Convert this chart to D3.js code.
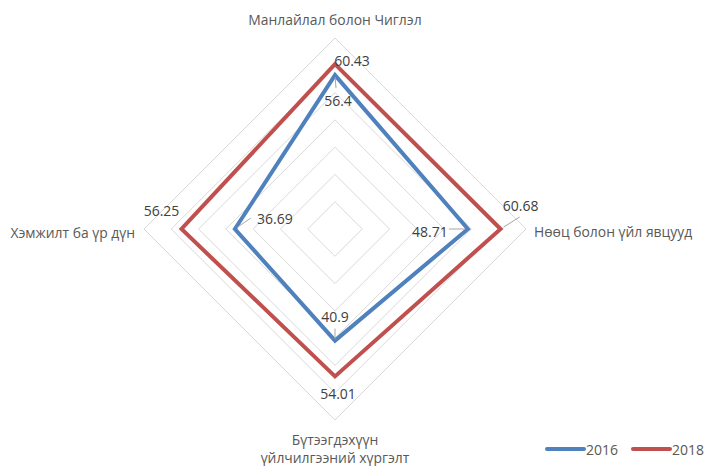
<!DOCTYPE html>
<html>
<head>
<meta charset="utf-8">
<script src="https://cdn.jsdelivr.net/npm/d3@7"></script>
<style>
  body { margin: 0; background: #fff; }
  text { font-family: "Open Sans", sans-serif; }
</style>
</head>
<body>
<div id="chart"></div>
<script>
// Data
var categories = ["Манлайлал болон Чиглэл", "Нөөц болон үйл явцууд", "Бүтээгдэхүүн үйлчилгээний хүргэлт", "Хэмжилт ба үр дүн"];
var series = ["2016", "2018"];
var values2016 = [56.4, 48.71, 40.9, 36.69];
var values2018 = [60.43, 60.68, 54.01, 56.25];
var ringValues = [10, 20, 30, 40, 50, 60, 70];

var colors = ["#4F81BD", "#C0504D"];
var dataset = [values2016, values2018];

// label offsets from the vertex; leader = start point of leader line (relative to label)
var labelLayout = [
  [{dx: 3, dy: 25, lead: [-2, -12]}, {dx: -38, dy: 2, lead: [19, -2]}, {dx: 0, dy: -24, lead: [0, 12]}, {dx: 40, dy: -11, lead: [-24, 0]}],
  [{dx: 17, dy: -4, lead: null}, {dx: 20, dy: -24, lead: [-1, 12]}, {dx: 3, dy: 17, lead: null}, {dx: -20, dy: -19, lead: null}]
];

var width = 706, height = 466;
var cx = 335, cy = 229;

var svg = d3.select("#chart").append("svg")
    .attr("width", width)
    .attr("height", height);

var rScale = d3.scaleLinear().domain([0, 70]).range([0, 191]);
var angle = function(i) { return i * Math.PI / 2; };

function pt(i, v) {
  var a = angle(i);
  return [cx + rScale(v) * Math.sin(a), cy - rScale(v) * Math.cos(a)];
}

var lineGen = d3.line().curve(d3.curveLinearClosed);

// grid diamonds
svg.append("g").selectAll("path")
  .data(ringValues)
  .enter().append("path")
  .attr("d", function(v) { return lineGen(categories.map(function(c, i) { return pt(i, v); })); })
  .attr("fill", "none")
  .attr("stroke", "#D9D9D9")
  .attr("stroke-width", 1);

// series
svg.append("g").selectAll("path")
  .data(dataset)
  .enter().append("path")
  .attr("d", function(d) { return lineGen(d.map(function(v, i) { return pt(i, v); })); })
  .attr("fill", "none")
  .attr("stroke", function(d, i) { return colors[i]; })
  .attr("stroke-width", 4)
  .attr("stroke-linejoin", "miter");

// data labels
dataset.forEach(function(d, s) {
  d.forEach(function(v, i) {
    var p = pt(i, v);
    var lay = labelLayout[s][i];
    var lx = p[0] + lay.dx, ly = p[1] + lay.dy;
    if (lay.lead) {
      var sx = lx + lay.lead[0], sy = ly + lay.lead[1];
      svg.append("line")
        .attr("x1", sx).attr("y1", sy)
        .attr("x2", p[0] + (sx - p[0]) * 0.15).attr("y2", p[1] + (sy - p[1]) * 0.15)
        .attr("stroke", "#A6A6A6").attr("stroke-width", 1);
    }
    svg.append("text")
      .attr("x", lx).attr("y", ly)
      .attr("text-anchor", "middle")
      .attr("dominant-baseline", "central")
      .attr("font-size", "14px")
      .attr("fill", "#404040")
      .text(v);
  });
});

// axis labels
var axisText = svg.append("g").attr("font-size", "13.9px").attr("fill", "#595959");
axisText.append("text").attr("x", cx).attr("y", 19).attr("text-anchor", "middle")
  .attr("dominant-baseline", "central").text(categories[0]);
axisText.append("text").attr("x", 534).attr("y", 231).attr("text-anchor", "start")
  .attr("dominant-baseline", "central").text(categories[1]);
var bottom = categories[2].split(" ");
axisText.append("text").attr("x", cx).attr("y", 439).attr("text-anchor", "middle")
  .attr("dominant-baseline", "central").text(bottom[0]);
axisText.append("text").attr("x", cx).attr("y", 457).attr("text-anchor", "middle")
  .attr("dominant-baseline", "central").text(bottom.slice(1).join(" "));
axisText.append("text").attr("x", 135).attr("y", 232).attr("text-anchor", "end")
  .attr("dominant-baseline", "central").text(categories[3]);

// legend
var legend = svg.append("g").selectAll("g")
  .data(series)
  .enter().append("g")
  .attr("transform", function(d, i) { return "translate(" + (547 + i * 86) + ",449)"; });
legend.append("line")
  .attr("x1", 0).attr("x2", 37).attr("y1", 0).attr("y2", 0)
  .attr("stroke", function(d, i) { return colors[i]; })
  .attr("stroke-width", 4)
  .attr("stroke-linecap", "round");
legend.append("text")
  .attr("x", 39).attr("y", 0)
  .attr("dominant-baseline", "central")
  .attr("font-size", "14px")
  .attr("fill", "#595959")
  .text(function(d) { return d; });
</script>
</body>
</html>
